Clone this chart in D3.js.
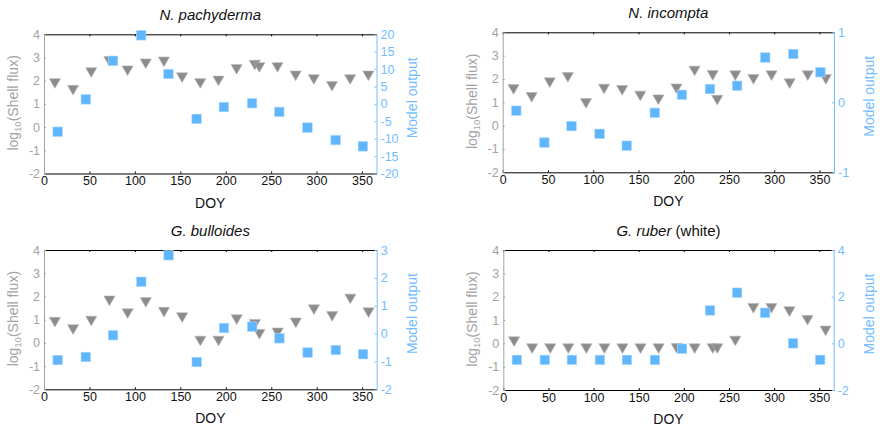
<!DOCTYPE html>
<html>
<head>
<meta charset="utf-8">
<script src="https://cdn.jsdelivr.net/npm/d3@7"></script>
<style>
  body { margin: 0; background: #fff; }
  svg { font-family: "Liberation Sans", Arial, sans-serif; }
</style>
</head>
<body>
<div id="chart"></div>
<script>
// sampling days
let triDOY = [12, 32, 52, 72, 92, 112, 132, 152, 172, 192, 212, 232, 237, 257, 277, 297, 317, 337, 357];
let sqDOY = [15, 46, 76, 107, 137, 168, 198, 229, 259, 290, 321, 351];

// log10 shell flux (triangles, left axis)
let fluxPachy = [1.95, 1.66, 2.42, 2.9, 2.5, 2.8, 2.88, 2.2, 1.95, 2.06, 2.56, 2.74, 2.64, 2.64, 2.28, 2.12, 1.83, 2.12, 2.28];
let fluxIncompta = [1.62, 1.28, 1.91, 2.14, 1.02, 1.64, 1.58, 1.34, 1.18, 1.65, 2.41, 2.22, 1.16, 2.21, 2.05, 2.21, 1.87, 2.21, 2.05];
let fluxBulloides = [0.96, 0.64, 1.01, 1.88, 1.33, 1.81, 1.39, 1.16, 0.15, 0.15, 1.07, 0.87, 0.44, 0.5, 0.93, 1.5, 1.21, 1.96, 1.37];
let fluxRuber = [0.14, -0.16, -0.16, -0.16, -0.16, -0.16, -0.16, -0.16, -0.16, -0.14, -0.16, -0.16, -0.16, 0.17, 1.57, 1.57, 1.43, 1.06, 0.6];

// model output (squares, right axis)
let modelPachy = [-8.0, 1.3, 12.4, 19.7, 8.6, -4.3, -0.9, 0.2, -2.3, -6.8, -10.4, -12.2];
let modelIncompta = [-0.12, -0.575, -0.34, -0.45, -0.62, -0.15, 0.107, 0.19, 0.236, 0.64, 0.69, 0.43];
let modelBulloides = [-0.95, -0.84, -0.06, 1.86, 2.81, -1.02, 0.2, 0.25, -0.17, -0.68, -0.59, -0.74];
let modelRuber = [-0.71, -0.71, -0.71, -0.71, -0.71, -0.71, -0.23, 1.41, 2.17, 1.31, 0.0, -0.71];

// axis ranges and ticks
let xTicks = [0, 50, 100, 150, 200, 250, 300, 350];
let leftTicks = [-2, -1, 0, 1, 2, 3, 4];
let rightTicksPachy = [-20, -15, -10, -5, 0, 5, 10, 15, 20];
let rightTicksIncompta = [-1, 0, 1];
let rightTicksBulloides = [-2, -1, 0, 1, 2, 3];
let rightTicksRuber = [-2, 0, 2, 4];

let grayCol = "#8c8c8c",
    axisGray = "#a3a3a3",
    blueCol = "#60b6fc",
    axisBlue = "#72bdff";

let panels = [
  {genus: "N.", species: "pachyderma", extra: "", flux: fluxPachy, model: modelPachy,
   rTicks: rightTicksPachy, rDom: [-20, 20], box: [44, 376.5, 34.3, 173.5]},
  {genus: "N.", species: "incompta", extra: "", flux: fluxIncompta, model: modelIncompta,
   rTicks: rightTicksIncompta, rDom: [-1, 1], box: [502.7, 834, 32.3, 172.3]},
  {genus: "G.", species: "bulloides", extra: "", flux: fluxBulloides, model: modelBulloides,
   rTicks: rightTicksBulloides, rDom: [-2, 3], box: [44, 376.7, 250, 389.3]},
  {genus: "G.", species: "ruber", extra: " (white)", flux: fluxRuber, model: modelRuber,
   rTicks: rightTicksRuber, rDom: [-2, 4], box: [503.3, 833.7, 250, 390]}
];

let svg = d3.select("#chart").append("svg")
    .attr("width", 880)
    .attr("height", 433);

panels.forEach(function(p) {
  let [l, r, t, b] = p.box;
  let x = d3.scaleLinear().domain([0, 366]).range([l, r]);
  let yL = d3.scaleLinear().domain([-2, 4]).range([b, t]);
  let yR = d3.scaleLinear().domain(p.rDom).range([b, t]);
  let g = svg.append("g");

  // top axis (box)
  g.append("g")
    .attr("transform", "translate(0," + t + ")")
    .call(d3.axisTop(x).tickValues(xTicks).tickSize(-2).tickSizeOuter(0).tickFormat(""))
    .call(s => s.selectAll("path,line").attr("stroke", "#000"));

  // bottom axis
  let bx = g.append("g")
    .attr("transform", "translate(0," + b + ")")
    .call(d3.axisBottom(x).tickValues(xTicks).tickSize(-2).tickSizeOuter(0).tickPadding(3));
  bx.selectAll("path,line").attr("stroke", "#000");
  bx.selectAll("text").attr("fill", "#111").style("font-size", "12.5px");

  // left axis
  let lx = g.append("g")
    .attr("transform", "translate(" + l + ",0)")
    .call(d3.axisLeft(yL).tickValues(leftTicks).tickSize(-2).tickSizeOuter(0).tickPadding(4)
      .tickFormat(d => String(d)));
  lx.selectAll("path,line").attr("stroke", axisGray);
  lx.selectAll("text").attr("fill", axisGray).style("font-size", "12.5px");

  // right axis
  let rx = g.append("g")
    .attr("transform", "translate(" + r + ",0)")
    .call(d3.axisRight(yR).tickValues(p.rTicks).tickSize(-2).tickSizeOuter(0).tickPadding(4)
      .tickFormat(d => String(d)));
  rx.selectAll("path,line").attr("stroke", axisBlue);
  rx.selectAll("text").attr("fill", axisBlue).style("font-size", "12.5px");

  let cx = (l + r) / 2, cy = (t + b) / 2;

  // title
  let title = g.append("text")
    .attr("x", cx)
    .attr("y", t - 14)
    .attr("text-anchor", "middle")
    .style("font-size", "15px")
    .attr("fill", "#111");
  title.append("tspan").style("font-style", "italic").text(p.genus + " " + p.species);
  if (p.extra) title.append("tspan").text(p.extra);

  // x label
  g.append("text")
    .attr("x", cx)
    .attr("y", b + 34)
    .attr("text-anchor", "middle")
    .style("font-size", "14px")
    .attr("fill", "#111")
    .text("DOY");

  // left y label
  let yl = g.append("text")
    .attr("transform", "translate(" + (l - 26) + "," + (cy - 1) + ") rotate(-90)")
    .attr("text-anchor", "middle")
    .style("font-size", "14px")
    .attr("fill", axisGray);
  yl.append("tspan").text("log");
  yl.append("tspan").attr("dy", 3).style("font-size", "9.5px").text("10");
  yl.append("tspan").attr("dy", -3).text("(Shell flux)");

  // right y label
  g.append("text")
    .attr("transform", "translate(" + (r + 40) + "," + (cy - 6) + ") rotate(-90)")
    .attr("text-anchor", "middle")
    .style("font-size", "14px")
    .attr("fill", axisBlue)
    .text("Model output");

  // shell flux triangles
  let tri = d3.symbol().type(d3.symbolTriangle).size(54);
  g.append("g").selectAll("path")
    .data(triDOY.map((d, i) => ({doy: d, v: p.flux[i]})))
    .enter().append("path")
    .attr("d", tri)
    .attr("transform", d => "translate(" + x(d.doy) + "," + yL(d.v) + ") rotate(180)")
    .attr("fill", grayCol)
    .attr("stroke", "#b5b5b5")
    .attr("stroke-width", 0.6);

  // model squares
  let s = 9.5;
  g.append("g").selectAll("rect")
    .data(sqDOY.map((d, i) => ({doy: d, v: p.model[i]})))
    .enter().append("rect")
    .attr("x", d => x(d.doy) - s / 2)
    .attr("y", d => yR(d.v) - s / 2)
    .attr("width", s)
    .attr("height", s)
    .attr("fill", blueCol)
    .attr("stroke", "#a9d6fd")
    .attr("stroke-width", 0.6);
});
</script>
</body>
</html>
